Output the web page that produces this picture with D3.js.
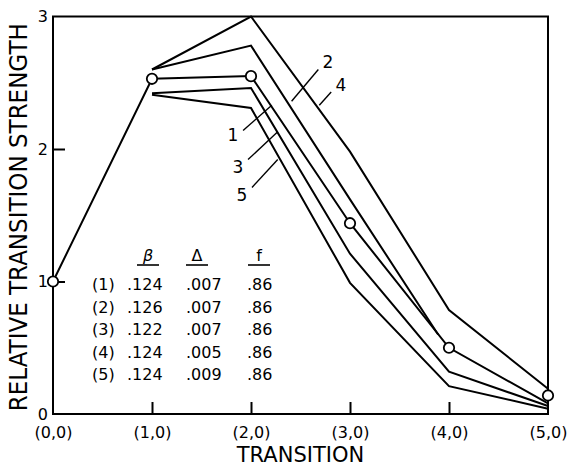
<!DOCTYPE html>
<html>
<head>
<meta charset="utf-8">
<script src="https://cdn.jsdelivr.net/npm/d3@7/dist/d3.min.js"></script>
<style>
  html, body { margin: 0; padding: 0; background: #fff; }
  svg { display: block; font-family: "DejaVu Sans", sans-serif; }
</style>
</head>
<body>
<svg id="chart" width="573" height="468"></svg>
<script>
// Transition categories along the x axis
const transitions = ["(0,0)", "(1,0)", "(2,0)", "(3,0)", "(4,0)", "(5,0)"];
const yTicks = [0, 1, 2, 3];

// Measured relative strengths (open circles)
const measured = [1.0, 2.53, 2.55, 1.44, 0.50, 0.14];

// Calculated curves, indexed by transition position
const curve1X = [0, 1, 2, 3, 4, 5];
const curve1Y = [1.0, 2.53, 2.55, 1.44, 0.50, 0.08];
const curve2X = [1, 2, 3, 3.89];
const curve2Y = [2.60, 2.78, 1.62, 0.60];
const curve3X = [1, 2, 3, 4, 5];
const curve3Y = [2.42, 2.46, 1.21, 0.32, 0.06];
const curve4X = [1, 2, 3, 4, 5];
const curve4Y = [2.60, 3.00, 1.98, 0.785, 0.19];
const curve5X = [1, 2, 3, 4, 5];
const curve5Y = [2.41, 2.31, 0.99, 0.21, 0.04];

// Parameter table
const curveIds = ["(1)", "(2)", "(3)", "(4)", "(5)"];
const betaVals = [".124", ".126", ".122", ".124", ".124"];
const deltaVals = [".007", ".007", ".007", ".005", ".009"];
const fVals = [".86", ".86", ".86", ".86", ".86"];

const svg = d3.select("#chart");
const x = d3.scaleLinear().domain([0, 5]).range([53, 548]);
const y = d3.scaleLinear().domain([0, 3]).range([414, 16.5]);

// Frame
svg.append("rect")
  .attr("x", x(0)).attr("y", y(3))
  .attr("width", x(5) - x(0)).attr("height", y(0) - y(3))
  .attr("fill", "none").attr("stroke", "#000").attr("stroke-width", 2);

// Inward tick marks
const bottomTicks = svg.append("g").attr("transform", `translate(0,${y(0)})`)
  .call(d3.axisBottom(x).tickValues([1, 2, 3, 4]).tickSize(-12).tickFormat(""));
bottomTicks.select(".domain").remove();
bottomTicks.selectAll("line").attr("stroke-width", 2);

const leftTicks = svg.append("g").attr("transform", `translate(${x(0)},0)`)
  .call(d3.axisLeft(y).tickValues([1, 2]).tickSize(-12).tickFormat(""));
leftTicks.select(".domain").remove();
leftTicks.selectAll("line").attr("stroke-width", 2);

// Tick labels
const xLabels = svg.append("g").attr("transform", `translate(0,${y(0)})`)
  .call(d3.axisBottom(x).tickValues(d3.range(transitions.length))
    .tickSize(0).tickPadding(13).tickFormat(i => transitions[i]));
xLabels.select(".domain").remove();
xLabels.selectAll("text").attr("font-size", 16).attr("font-family", "DejaVu Sans").attr("fill", "#000");

const yLabels = svg.append("g").attr("transform", `translate(${x(0)},0)`)
  .call(d3.axisLeft(y).tickValues(yTicks).tickSize(0).tickPadding(5).tickFormat(d3.format("d")));
yLabels.select(".domain").remove();
yLabels.selectAll("text").attr("font-size", 16).attr("font-family", "DejaVu Sans").attr("fill", "#000");

// Axis titles
svg.append("text")
  .attr("transform", `translate(27,${(y(0) + y(3)) / 2 + 2}) rotate(-90)`)
  .attr("text-anchor", "middle")
  .attr("font-size", 24)
  .attr("textLength", 388).attr("lengthAdjust", "spacingAndGlyphs")
  .text("RELATIVE TRANSITION STRENGTH");

svg.append("text")
  .attr("x", (x(0) + x(5)) / 2).attr("y", 462)
  .attr("text-anchor", "middle")
  .attr("font-size", 21)
  .text("TRANSITION");

// Curves
const line = d3.line().x(d => x(d[0])).y(d => y(d[1]));
const curves = [
  [curve1X, curve1Y], [curve2X, curve2Y], [curve3X, curve3Y],
  [curve4X, curve4Y], [curve5X, curve5Y]
];
svg.append("g").selectAll("path")
  .data(curves)
  .join("path")
  .attr("d", c => line(d3.zip(c[0], c[1])))
  .attr("fill", "none").attr("stroke", "#000")
  .attr("stroke-width", 2).attr("stroke-linejoin", "miter");

// Measured points
svg.append("g").selectAll("circle")
  .data(measured)
  .join("circle")
  .attr("cx", (d, i) => x(i)).attr("cy", d => y(d))
  .attr("r", 5.2)
  .attr("fill", "#fff").attr("stroke", "#000").attr("stroke-width", 1.8);

// Curve labels with leader lines (leader in data units, text offset in px)
const curveLabels = [
  { t: "2", x1: 2.68, y1: 2.60, x2: 2.41, y2: 2.36, tx: 328, ty: 68 },
  { t: "4", x1: 2.81, y1: 2.43, x2: 2.69, y2: 2.33, tx: 341, ty: 91 },
  { t: "1", x1: 1.92, y1: 2.14, x2: 2.21, y2: 2.33, tx: 233, ty: 141 },
  { t: "3", x1: 1.97, y1: 1.92, x2: 2.27, y2: 2.13, tx: 238, ty: 173 },
  { t: "5", x1: 2.01, y1: 1.71, x2: 2.27, y2: 1.92, tx: 242, ty: 201 }
];
const lab = svg.append("g");
lab.selectAll("line").data(curveLabels).join("line")
  .attr("x1", d => x(d.x1)).attr("y1", d => y(d.y1))
  .attr("x2", d => x(d.x2)).attr("y2", d => y(d.y2))
  .attr("stroke", "#000").attr("stroke-width", 1.4);
lab.selectAll("text").data(curveLabels).join("text")
  .attr("x", d => d.tx).attr("y", d => d.ty)
  .attr("text-anchor", "middle").attr("font-size", 17)
  .text(d => d.t);

// Parameter table
const table = svg.append("g").attr("font-size", 16);
const headers = [
  { t: "\u03B2", cx: 148, style: "italic" },
  { t: "\u0394", cx: 197, style: "normal" },
  { t: "f", cx: 259, style: "normal" }
];
headers.forEach(h => {
  table.append("text").attr("x", h.cx).attr("y", 261)
    .attr("text-anchor", "middle").attr("font-style", h.style).text(h.t);
  table.append("line").attr("x1", h.cx - 11).attr("x2", h.cx + 11)
    .attr("y1", 265).attr("y2", 265).attr("stroke", "#000").attr("stroke-width", 1.6);
});
const rowY = i => 290 + i * 22.5;
curveIds.forEach((id, i) => {
  table.append("text").attr("x", 92).attr("y", rowY(i)).text(id);
  table.append("text").attr("x", 127).attr("y", rowY(i)).text(betaVals[i]);
  table.append("text").attr("x", 186).attr("y", rowY(i)).text(deltaVals[i]);
  table.append("text").attr("x", 247).attr("y", rowY(i)).text(fVals[i]);
});
</script>
</body>
</html>
